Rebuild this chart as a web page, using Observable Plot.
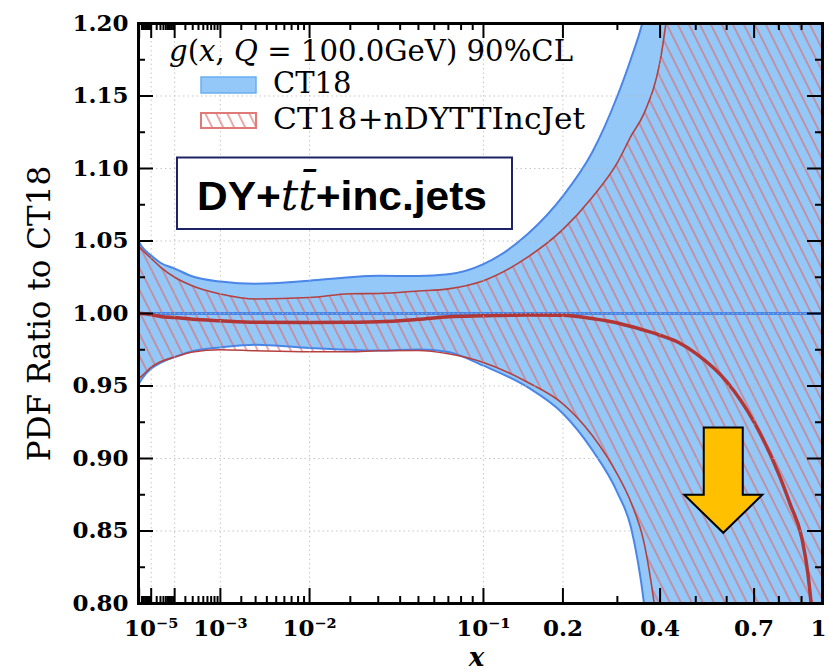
<!DOCTYPE html>
<html>
<head>
<meta charset="utf-8">
<script src="https://cdn.jsdelivr.net/npm/d3@7"></script>
<script src="https://cdn.jsdelivr.net/npm/@observablehq/plot@0.6"></script>
<style>
  body { margin: 0; background: #fff; }
  #chart { position: relative; width: 828px; height: 672px; }
</style>
</head>
<body>
<div id="chart"></div>
<script>
// ---------- data ----------
const xs     = [8.3e-7, 2e-6, 1e-5, 3e-5, 1e-4, 3e-4, 1e-3, 3e-3, 0.01, 0.02, 0.03, 0.05, 0.07, 0.1, 0.15, 0.2, 0.25, 0.3, 0.33, 0.36, 0.4, 0.45, 0.5, 0.6, 0.7, 0.8, 0.85, 0.9, 0.93, 0.95, 1];
const ct18Hi = [1.050, 1.046, 1.040, 1.035, 1.031, 1.0255, 1.022, 1.0205, 1.0226, 1.025, 1.026, 1.0258, 1.027, 1.034, 1.055, 1.081, 1.111, 1.150, 1.176, 1.205, 1.27, 1.36, 1.46, 1.70, 2.00, 2.40, 2.60, 2.80, 2.90, 3.00, 3.20];
const ct18Lo = [0.951, 0.955, 0.962, 0.966, 0.970, 0.974, 0.9766, 0.9785, 0.9762, 0.975, 0.9745, 0.9752, 0.9735, 0.964, 0.949, 0.931, 0.906, 0.8765, 0.852, 0.800, 0.68, 0.55, 0.42, 0.15, -0.10, -0.40, -0.60, -0.80, -0.90, -1.00, -1.20];
const ct18Mid = [1, 1, 1, 1, 1, 1, 1, 1, 1, 1, 1, 1, 1, 1, 1, 1, 1, 1, 1, 1, 1, 1, 1, 1, 1, 1, 1, 1, 1, 1, 1];
const nHi    = [1.0467, 1.044, 1.038, 1.032, 1.025, 1.019, 1.0135, 1.010, 1.011, 1.0136, 1.0138, 1.0155, 1.017, 1.0226, 1.039, 1.058, 1.080, 1.104, 1.1225, 1.138, 1.174, 1.27, 1.36, 1.60, 1.90, 2.30, 2.50, 2.70, 2.80, 2.90, 3.10];
const nLo    = [0.955, 0.957, 0.963, 0.9667, 0.970, 0.9735, 0.975, 0.9743, 0.9736, 0.9736, 0.9743, 0.9745, 0.9722, 0.9662, 0.9524, 0.9377, 0.916, 0.889, 0.8695, 0.842, 0.77, 0.65, 0.50, 0.25, 0.0, -0.30, -0.50, -0.70, -0.80, -0.90, -1.10];
const nMid   = [1.000, 1.000, 0.9991, 0.998, 0.9972, 0.996, 0.995, 0.994, 0.9938, 0.994, 0.9943, 0.996, 0.9977, 0.9984, 0.999, 0.9988, 0.9965, 0.9935, 0.991, 0.9885, 0.985, 0.980, 0.9725, 0.953, 0.925, 0.889, 0.868, 0.846, 0.82, 0.79, 0.60];

// ticks / labels
const xMajor = [1e-6, 1e-5, 1e-4, 1e-3, 1e-2, 0.1, 0.2, 0.4, 0.7, 1];
const xMinor = [1e-6, 1e-5, 1e-4, 1e-3, 1e-2].flatMap(d => [2, 3, 4, 5, 6, 7, 8, 9].map(k => k * d)).concat([0.3, 0.5, 0.6, 0.8, 0.9]);
const xLabelTicks = [1e-5, 1e-3, 1e-2, 0.1, 0.2, 0.4, 0.7];
const xLabels = ["10\u207B\u2075", "10\u207B\u00B3", "10\u207B\u00B2", "10\u207B\u00B9", "0.2", "0.4", "0.7"];
const xGrid = [1e-5, 1e-4, 1e-3, 1e-2, 0.1, 0.2, 0.4, 0.7];
const yMajor = [0.80, 0.85, 0.90, 0.95, 1.00, 1.05, 1.10, 1.15, 1.20];
const yMinor = [0.825, 0.875, 0.925, 0.975, 1.025, 1.075, 1.125, 1.175];
const yGrid = [0.85, 0.90, 0.95, 1.00, 1.05, 1.10, 1.15];

const seriesNames = ["CT18", "CT18+nDYTTIncJet"];
const arrow = {x: 0.59, top: 0.921, neck: 0.8746, tip: 0.8484};

// ---------- styles ----------
const blueFill = "#93c8f8", blueLine = "#4a86e8", redLine = "#b5403f", redMid = "#b23636", hatchColor = "#e06a68";
const W = 828, H = 672, mL = 138, mR = 6, mT = 23, mB = 69;
const plotW = W - mL - mR, plotH = H - mT - mB;
const serif = "DejaVu Serif";

const rows = xs.map((x, i) => ({x, ct18Hi: ct18Hi[i], ct18Lo: ct18Lo[i], ct18Mid: ct18Mid[i], nHi: nHi[i], nLo: nLo[i], nMid: nMid[i]}));
const labelMap = new Map(xLabelTicks.map((t, i) => [t, xLabels[i]]));

const plot = Plot.plot({
  width: W, height: H,
  marginLeft: mL, marginRight: mR, marginTop: mT, marginBottom: mB,
  style: {fontFamily: serif, background: "white", overflow: "visible"},
  x: {type: "pow", exponent: 0.29, domain: [8.3e-7, 1]},
  y: {domain: [0.8, 1.2]},
  marks: [
    Plot.areaY(rows, {x: "x", y1: "ct18Lo", y2: "ct18Hi", curve: "monotone-x", fill: blueFill, clip: true}),
    Plot.areaY(rows, {x: "x", y1: "nLo", y2: "nHi", curve: "monotone-x", fill: "url(#hatch)", clip: true}),
    Plot.lineY(rows, {x: "x", y: "ct18Hi", curve: "monotone-x", stroke: blueLine, strokeWidth: 2, clip: true}),
    Plot.lineY(rows, {x: "x", y: "ct18Lo", curve: "monotone-x", stroke: blueLine, strokeWidth: 2, clip: true}),
    Plot.lineY(rows, {x: "x", y: "nHi", curve: "monotone-x", stroke: redLine, strokeWidth: 1.6, clip: true}),
    Plot.lineY(rows, {x: "x", y: "nLo", curve: "monotone-x", stroke: redLine, strokeWidth: 1.6, clip: true}),
    Plot.lineY(rows, {x: "x", y: "ct18Mid", curve: "monotone-x", stroke: blueLine, strokeWidth: 3.2, clip: true}),
    Plot.lineY(rows, {x: "x", y: "nMid", curve: "monotone-x", stroke: redMid, strokeWidth: 3.5, clip: true}),
    // grid
    Plot.ruleX(xGrid, {stroke: "#b8b8b8", strokeWidth: 1, strokeDasharray: "1.5,3", strokeOpacity: 0.8}),
    Plot.ruleY(yGrid, {stroke: "#b8b8b8", strokeWidth: 1, strokeDasharray: "1.5,3", strokeOpacity: 0.8}),
    // inward ticks, all four sides
    Plot.ruleX(xMajor, {insetTop: plotH - 15, stroke: "black", strokeWidth: 2}),
    Plot.ruleX(xMajor, {insetBottom: plotH - 15, stroke: "black", strokeWidth: 2}),
    Plot.ruleX(xMinor, {insetTop: plotH - 7, stroke: "black", strokeWidth: 2}),
    Plot.ruleX(xMinor, {insetBottom: plotH - 7, stroke: "black", strokeWidth: 2}),
    Plot.ruleY(yMajor, {insetRight: plotW - 15, stroke: "black", strokeWidth: 2}),
    Plot.ruleY(yMajor, {insetLeft: plotW - 15, stroke: "black", strokeWidth: 2}),
    Plot.ruleY(yMinor, {insetRight: plotW - 7, stroke: "black", strokeWidth: 2}),
    Plot.ruleY(yMinor, {insetLeft: plotW - 7, stroke: "black", strokeWidth: 2}),
    Plot.frame({stroke: "black", strokeWidth: 3}),
    // axes
    Plot.axisY(yMajor, {anchor: "left", tickSize: 0, tickPadding: 10, tickFormat: d3.format(".2f"), fontSize: 23, fontWeight: "bold", fontFamily: serif, label: null}),
    Plot.axisX(xLabelTicks, {anchor: "bottom", tickSize: 0, tickPadding: 16, tickFormat: d => labelMap.get(d), fontSize: 23, fontWeight: "bold", fontFamily: serif, label: null}),
    Plot.text([1], {x: d => d, frameAnchor: "bottom", dy: 16, dx: -4, lineAnchor: "top", text: () => "1", fontSize: 23, fontWeight: "bold", fontFamily: serif}),
    Plot.text(["x"], {frameAnchor: "bottom", dy: 62, dx: -4, textAnchor: "middle", lineAnchor: "bottom", text: d => d, fontSize: 26, fontWeight: "bold", fontStyle: "italic", fontFamily: serif}),
    Plot.text(["PDF Ratio to CT18"], {frameAnchor: "left", dx: -98, rotate: -90, textAnchor: "middle", text: d => d, fontSize: 31, fontFamily: serif})
  ]
});

document.getElementById("chart").appendChild(plot);

// ---------- hatch pattern, legend, annotations ----------
const svg = d3.select(plot);
const defs = svg.insert("defs", ":first-child");
const pat = defs.append("pattern").attr("id", "hatch").attr("patternUnits", "userSpaceOnUse")
  .attr("width", 9.84).attr("height", 9.84).attr("patternTransform", "rotate(-26.57)");
pat.append("line").attr("x1", 4.92).attr("y1", -1).attr("x2", 4.92).attr("y2", 11)
  .attr("stroke", hatchColor).attr("stroke-width", 1.3).attr("stroke-opacity", 0.9);

const ann = svg.append("g").attr("text-anchor", "start");
// legend title
const t = ann.append("text").attr("x", 169).attr("y", 61).attr("font-family", serif).attr("font-size", 29)
  .attr("text-anchor", "start").attr("textLength", 404).attr("lengthAdjust", "spacingAndGlyphs");
t.append("tspan").attr("font-style", "italic").text("g");
t.append("tspan").text("(");
t.append("tspan").attr("font-style", "italic").text("x");
t.append("tspan").text(", ");
t.append("tspan").attr("font-style", "italic").text("Q");
t.append("tspan").text(" = 100.0GeV) 90%CL");
// swatches
ann.append("rect").attr("x", 201).attr("y", 77).attr("width", 55).attr("height", 16)
  .attr("fill", blueFill).attr("stroke", "#6aaef2").attr("stroke-width", 1.5);
ann.append("text").attr("x", 273).attr("y", 93).attr("text-anchor", "start").attr("font-family", serif).attr("font-size", 29).text(seriesNames[0]);
ann.append("rect").attr("x", 201).attr("y", 113).attr("width", 55).attr("height", 15)
  .attr("fill", "url(#hatch)").attr("stroke", "#e07a78").attr("stroke-width", 2);
ann.append("text").attr("x", 273).attr("y", 128.5).attr("text-anchor", "start").attr("font-family", serif).attr("font-size", 29)
  .attr("textLength", 312).attr("lengthAdjust", "spacingAndGlyphs").text(seriesNames[1]);

// DY+tt̄+inc.jets box
ann.append("rect").attr("x", 177).attr("y", 157.5).attr("width", 335).attr("height", 71.5)
  .attr("fill", "white").attr("stroke", "#1f2266").attr("stroke-width", 2);
const bt = ann.append("text").attr("x", 197).attr("y", 210).attr("font-size", 41).attr("text-anchor", "start")
  .attr("textLength", 290).attr("lengthAdjust", "spacingAndGlyphs");
bt.append("tspan").attr("font-family", "Liberation Sans").attr("font-weight", "bold").text("DY+");
bt.append("tspan").attr("font-family", serif).attr("font-style", "italic").attr("font-size", 42).text("tt\u0304");
bt.append("tspan").attr("font-family", "Liberation Sans").attr("font-weight", "bold").text("+inc.jets");

// orange arrow (anchored with the plot's scales)
const sx = plot.scale("x"), sy = plot.scale("y");
const ax = sx.apply(arrow.x), aTop = sy.apply(arrow.top), aNeck = sy.apply(arrow.neck), aTip = sy.apply(arrow.tip);
const sw = 19.5, hw = 39;
ann.append("polygon")
  .attr("points", [[ax - sw, aTop], [ax + sw, aTop], [ax + sw, aNeck], [ax + hw, aNeck], [ax, aTip], [ax - hw, aNeck], [ax - sw, aNeck]].map(p => p.join(",")).join(" "))
  .attr("fill", "#ffc000").attr("stroke", "black").attr("stroke-width", 2).attr("stroke-linejoin", "miter");
</script>
</body>
</html>
